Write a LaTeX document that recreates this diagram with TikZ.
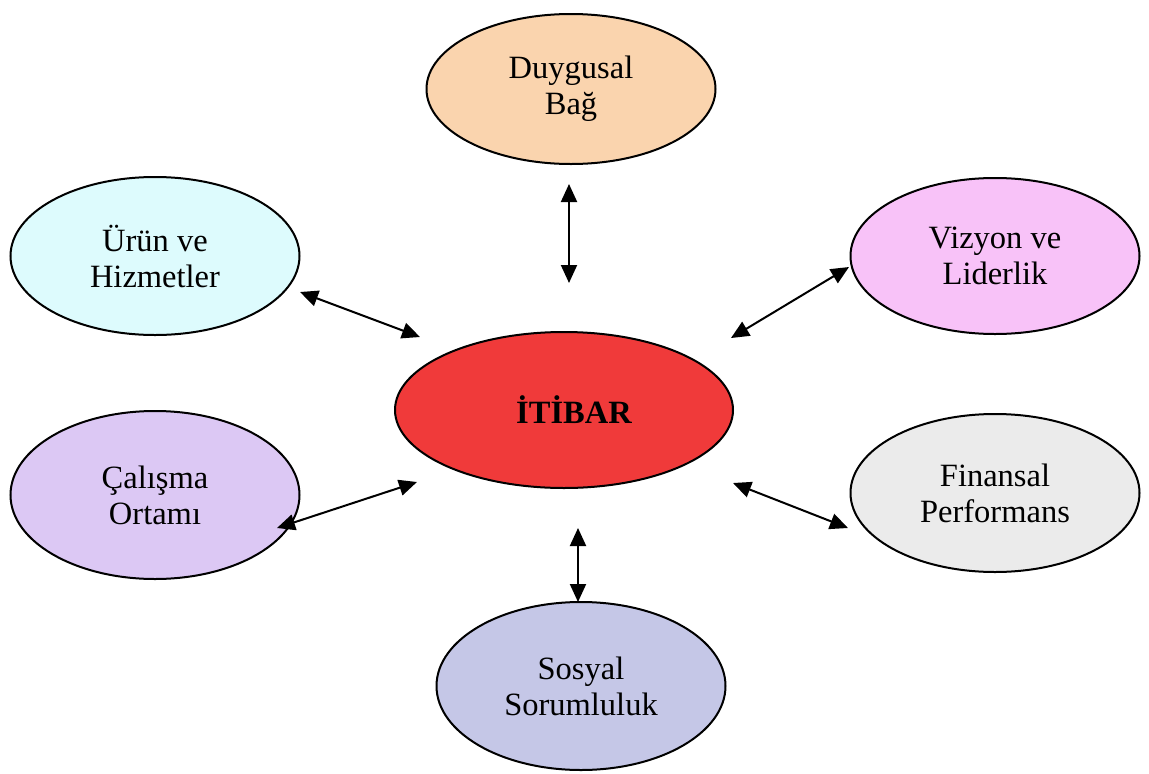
\documentclass[tikz,border=0pt]{standalone}
\usepackage{fontspec}
\setmainfont{Liberation Serif}
\usetikzlibrary{shapes.geometric,arrows.meta}
\definecolor{cPeach}{HTML}{FAD4AE}
\definecolor{cCyan}{HTML}{DDFBFD}
\definecolor{cPink}{HTML}{F8C2F8}
\definecolor{cRed}{HTML}{F03A3A}
\definecolor{cLav}{HTML}{DCC8F4}
\definecolor{cGray}{HTML}{EBEBEB}
\definecolor{cBlue}{HTML}{C5C7E7}
\tikzset{
  oval/.style={ellipse, draw=black, line width=2pt, inner sep=0pt, outer sep=0pt,
    align=center, font=\fontsize{32.5}{36}\selectfont},
  link/.style={line width=2pt, {Triangle[length=18pt,width=16pt]}-{Triangle[length=18pt,width=16pt]}}
}
\begin{document}
\begin{tikzpicture}[x=1pt,y=-1pt]
\useasboundingbox (0,0) rectangle (1149,774);
\node[oval, fill=cPeach, minimum width=289pt, minimum height=150pt] (duy) at (571,89) {Duygusal\\Bağ};
\node[oval, fill=cCyan, minimum width=289pt, minimum height=158pt] (uru) at (155,256) {Ürün ve\\Hizmetler};
\node[oval, fill=cPink, minimum width=289pt, minimum height=156pt] (viz) at (995,256) {Vizyon ve\\Liderlik};
\node[oval, fill=cRed, minimum width=338pt, minimum height=156pt, font=\fontsize{32.5}{36}\selectfont\bfseries] (iti) at (564,410) {\hspace*{20pt}İTİBAR};
\node[oval, fill=cLav, minimum width=289pt, minimum height=168pt] (cal) at (155,495) {Çalışma\\Ortamı};
\node[oval, fill=cGray, minimum width=289pt, minimum height=158pt] (fin) at (995,493) {Finansal\\Performans};
\node[oval, fill=cBlue, minimum width=289pt, minimum height=168pt] (sos) at (581,686) {Sosyal\\Sorumluluk};
\coordinate (a1) at (569,184); \coordinate (b1) at (569,283);
\coordinate (a2) at (300,292); \coordinate (b2) at (420,337);
\coordinate (a3) at (849,267); \coordinate (b3) at (731,338);
\coordinate (a4) at (277,528); \coordinate (b4) at (417,482);
\coordinate (a5) at (848,528); \coordinate (b5) at (733,483);
\coordinate (a6) at (578,602); \coordinate (b6) at (578,528);
\draw[link] (a1) -- (b1);
\draw[link] (a2) -- (b2);
\draw[link] (a3) -- (b3);
\draw[link] (a4) -- (b4);
\draw[link] (a5) -- (b5);
\draw[link] (a6) -- (b6);
\end{tikzpicture}
\end{document}
